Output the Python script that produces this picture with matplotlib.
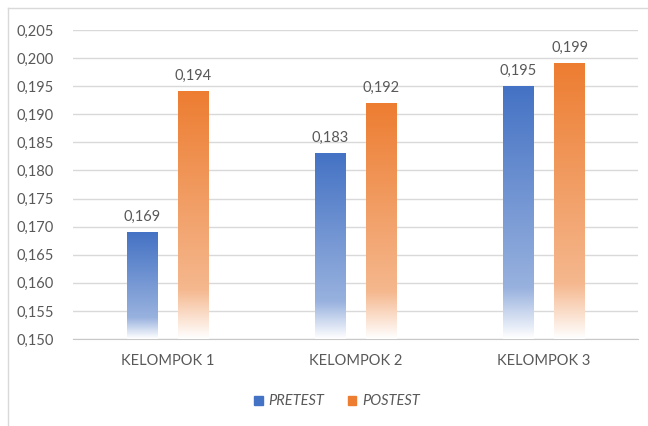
import numpy as np
import matplotlib.pyplot as plt
from matplotlib.colors import to_rgb
from matplotlib.ticker import FuncFormatter
from matplotlib.patches import Rectangle
from matplotlib.lines import Line2D

categories = ["KELOMPOK 1", "KELOMPOK 2", "KELOMPOK 3"]
pretest = [0.169, 0.183, 0.195]
posttest = [0.194, 0.192, 0.199]
series_names = ["PRETEST", "POSTEST"]
series_colors = ["#4472C4", "#ED7D31"]

plt.rcParams['font.family'] = ['Lato', 'DejaVu Sans']
text_color = "#595959"

fig = plt.figure(figsize=(6.48, 4.26), dpi=100)
ax = fig.add_axes([0.1127, 0.2042, 0.872, 0.7254])

ymin, ymax = 0.150, 0.205
ax.set_ylim(ymin, ymax)
ax.set_xlim(-0.5, len(categories) - 0.5)

width = 0.16
offset = 0.136


def gradient_bar(ax, x, top, color):
    # solid colour at the top, paler lower down, fading to white at the base
    c = np.array(to_rgb(color))
    w = np.ones(3)
    t = np.linspace(0, 1, 200)[:, None]
    mid = 0.55 * c + 0.45 * w
    cols = np.where(t < 0.8,
                    c + (mid - c) * (t / 0.8),
                    mid + (w - mid) * ((t - 0.8) / 0.2))
    img = cols[:, None, :]
    ax.imshow(img, extent=(x - width / 2, x + width / 2, ymin, top),
              aspect='auto', origin='upper', zorder=3, interpolation='bilinear')


xs = np.arange(len(categories))
for vals, color, sgn in [(pretest, series_colors[0], -1), (posttest, series_colors[1], 1)]:
    for x, v in zip(xs, vals):
        bx = x + sgn * offset
        gradient_bar(ax, bx, v, color)
        ax.text(bx, v + 0.0015, f"{v:.3f}".replace(".", ","), ha='center', va='bottom',
                fontsize=10.5, color=text_color)

ax.set_xlim(-0.5, len(categories) - 0.5)
ax.set_ylim(ymin, ymax)
ax.set_yticks(np.arange(0.150, 0.2051, 0.005))
ax.yaxis.set_major_formatter(FuncFormatter(lambda v, p: f"{v:.3f}".replace(".", ",")))
ax.set_xticks(xs)
ax.set_xticklabels(categories)
ax.tick_params(axis='both', length=0, labelsize=10.5, colors=text_color)
ax.tick_params(axis='x', pad=11)
ax.tick_params(axis='y', pad=14)
ax.grid(axis='y', color="#d9d9d9", lw=1, zorder=0)
ax.set_axisbelow(True)
for s in ['top', 'right', 'left']:
    ax.spines[s].set_visible(False)
ax.spines['bottom'].set_color("#c8c8c8")

handles = [Rectangle((0, 0), 1, 1, color=c) for c in series_colors]
leg = fig.legend(handles, series_names, loc='center', bbox_to_anchor=(0.52, 0.058),
                 ncol=2, frameon=False, handlelength=0.6, handleheight=0.6,
                 handletextpad=0.4, columnspacing=1.6,
                 prop={'size': 10.5, 'style': 'italic'})
for t in leg.get_texts():
    t.set_color(text_color)

# light outer frame
fig.add_artist(Line2D([8 / 648, 8 / 648], [0, 1 - 8 / 426], color="#d9d9d9", lw=1))
fig.add_artist(Line2D([8 / 648, 1], [1 - 8 / 426, 1 - 8 / 426], color="#d9d9d9", lw=1))

fig.savefig("out.png", dpi=100)
